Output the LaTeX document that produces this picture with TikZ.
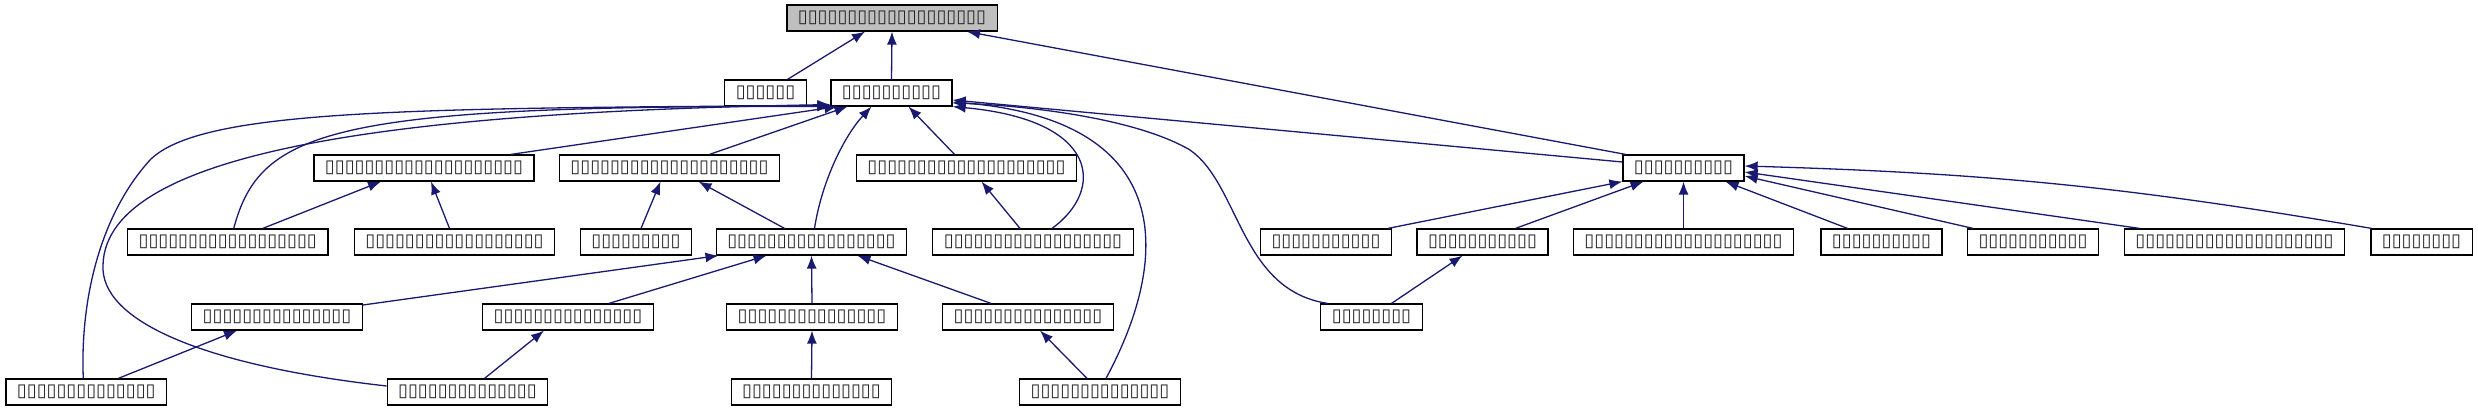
\documentclass[tikz,border=0pt]{standalone}
\usepackage{fontspec}
\newfontfamily\tofufont{DejaVu Sans}
\usetikzlibrary{arrows.meta}
\definecolor{navyedge}{HTML}{191970}
\definecolor{rootgray}{HTML}{BFBFBF}
\tikzset{
  cls/.style={draw=black, line width=1.2pt, fill=white, minimum height=26pt,
    inner xsep=11pt, inner ysep=0pt, text=black!85,
    font=\tofufont\fontsize{18}{18}\selectfont},
  inh/.style={draw=navyedge, line width=1.3pt, -{Latex[length=13pt,width=10pt]}}
}

\begin{document}
\begin{tikzpicture}[x=1pt, y=-1pt]
\useasboundingbox (0,0) rectangle (2478,411);
% classes, row by row
\node[cls, fill=rootgray] (base) at (892,18) {▯▯▯▯▯▯▯▯▯▯▯▯▯▯▯▯▯▯▯};
\node[cls] (aux) at (765.5,93) {▯▯▯▯▯▯};
\node[cls] (core) at (891.5,93) {▯▯▯▯▯▯▯▯▯▯};
\node[cls] (io) at (1683.5,168) {▯▯▯▯▯▯▯▯▯▯};
\node[cls] (dA) at (424,168) {▯▯▯▯▯▯▯▯▯▯▯▯▯▯▯▯▯▯▯▯};
\node[cls] (dB) at (669.5,168) {▯▯▯▯▯▯▯▯▯▯▯▯▯▯▯▯▯▯▯▯};
\node[cls] (dC) at (966.5,168) {▯▯▯▯▯▯▯▯▯▯▯▯▯▯▯▯▯▯▯▯};
\node[cls] (gA) at (227.75,242) {▯▯▯▯▯▯▯▯▯▯▯▯▯▯▯▯▯▯};
\node[cls] (gB) at (454.5,242) {▯▯▯▯▯▯▯▯▯▯▯▯▯▯▯▯▯▯};
\node[cls] (gC) at (636,242) {▯▯▯▯▯▯▯▯▯};
\node[cls] (gD) at (811.5,242) {▯▯▯▯▯▯▯▯▯▯▯▯▯▯▯▯▯};
\node[cls] (gE) at (1033,242) {▯▯▯▯▯▯▯▯▯▯▯▯▯▯▯▯▯▯};
\node[cls] (iA) at (1326,242) {▯▯▯▯▯▯▯▯▯▯▯};
\node[cls] (iB) at (1482.5,242) {▯▯▯▯▯▯▯▯▯▯▯};
\node[cls] (iC) at (1683.5,242) {▯▯▯▯▯▯▯▯▯▯▯▯▯▯▯▯▯▯▯▯};
\node[cls] (iD) at (1881.5,242) {▯▯▯▯▯▯▯▯▯▯};
\node[cls] (iE) at (2033,242) {▯▯▯▯▯▯▯▯▯▯▯};
\node[cls] (iF) at (2234.5,242) {▯▯▯▯▯▯▯▯▯▯▯▯▯▯▯▯▯▯▯▯};
\node[cls] (iG) at (2421.5,242) {▯▯▯▯▯▯▯▯};
\node[cls] (hA) at (277,317) {▯▯▯▯▯▯▯▯▯▯▯▯▯▯▯};
\node[cls] (hB) at (568,317) {▯▯▯▯▯▯▯▯▯▯▯▯▯▯▯};
\node[cls] (hC) at (812,317) {▯▯▯▯▯▯▯▯▯▯▯▯▯▯▯};
\node[cls] (hD) at (1028,317) {▯▯▯▯▯▯▯▯▯▯▯▯▯▯▯};
\node[cls] (iH) at (1371.5,317) {▯▯▯▯▯▯▯▯};
\node[cls] (kA) at (86.3,392) {▯▯▯▯▯▯▯▯▯▯▯▯▯▯};
\node[cls] (kB) at (467.5,392) {▯▯▯▯▯▯▯▯▯▯▯▯▯▯};
\node[cls] (kC) at (811.5,392) {▯▯▯▯▯▯▯▯▯▯▯▯▯▯};
\node[cls] (kD) at (1100,392) {▯▯▯▯▯▯▯▯▯▯▯▯▯▯};
% inheritance to the base
\draw[inh] ([xshift=22]aux.north) -- ([xshift=-27]base.south);
\draw[inh] (core.north) -- (base.south);
\draw[inh] ([xshift=-58]io.north) -- ([xshift=75]base.south);
% inheritance to core
\draw[inh] ([xshift=87]dA.north) -- ([xshift=-54]core.south);
\draw[inh] ([xshift=40]dB.north) -- ([xshift=-44]core.south);
\draw[inh] ([xshift=-12]dC.north) -- ([xshift=17]core.south);
\draw[inh] ([yshift=6]io.west) -- ([yshift=-7]core.east);
\draw[inh] ([xshift=3]gD.north) .. controls (822,180) and (845,135) .. ([xshift=-20]core.south);
\draw[inh] ([xshift=19]gE.north) .. controls (1105,190) and (1100,120) .. (core.south east);
\draw[inh] ([xshift=6]kD.north) .. controls (1175,250) and (1170,120) .. ([yshift=-9]core.east);
\draw[inh] ([xshift=-44]iH.north) .. controls (1240,290) and (1240,185) .. (1190,150)
  .. controls (1130,115) and (1010,105) .. ([yshift=-10]core.east);
\draw[inh] ([xshift=6]gA.north) .. controls (260,130) and (330,105) .. (core.south west);
\draw[inh] ([xshift=-3]kA.north) .. controls (80,300) and (100,215) .. (150,160)
  .. controls (200,110) and (400,108) .. ([yshift=1]core.south west);
\draw[inh] ([yshift=6]kB.west) .. controls (200,365) and (100,320) .. (103,265)
  .. controls (106,150) and (400,112) .. ([yshift=2]core.south west);
% inheritance to the second row
\draw[inh] ([xshift=35]gA.north) -- ([xshift=-43]dA.south);
\draw[inh] ([xshift=-5]gB.north) -- ([xshift=7]dA.south);
\draw[inh] ([xshift=5]gC.north) -- ([xshift=-9]dB.south);
\draw[inh] ([xshift=-27]gD.north) -- ([xshift=29]dB.south);
\draw[inh] ([xshift=-13]gE.north) -- ([xshift=15]dC.south);
% inheritance to io
\draw[inh] ([xshift=62]iA.north) -- (io.south west);
\draw[inh] ([xshift=33]iB.north) -- ([xshift=-40]io.south);
\draw[inh] (iC.north) -- (io.south);
\draw[inh] ([xshift=-34]iD.north) -- ([xshift=42]io.south);
\draw[inh] ([xshift=-60]iE.north) -- ([yshift=-8]io.east);
\draw[inh] ([xshift=-95]iF.north) -- ([yshift=-4]io.east);
\draw[inh] ([xshift=-50]iG.north) to[bend right=4] ([yshift=2]io.east);
% lower rows
\draw[inh] ([yshift=12]hA.east) -- ([xshift=-93]gD.south);
\draw[inh] ([xshift=41]hB.north) -- ([xshift=-45]gD.south);
\draw[inh] (hC.north) -- (gD.south);
\draw[inh] ([xshift=-37]hD.north) -- ([xshift=46]gD.south);
\draw[inh] ([xshift=20]iH.north) -- ([xshift=-20]iB.south);
\draw[inh] ([xshift=32]kA.north) -- ([xshift=-40]hA.south);
\draw[inh] ([xshift=17]kB.north) -- ([xshift=-24]hB.south);
\draw[inh] (kC.north) -- (hC.south);
\draw[inh] ([xshift=-13]kD.north) -- ([xshift=12]hD.south);
\end{tikzpicture}
\end{document}
